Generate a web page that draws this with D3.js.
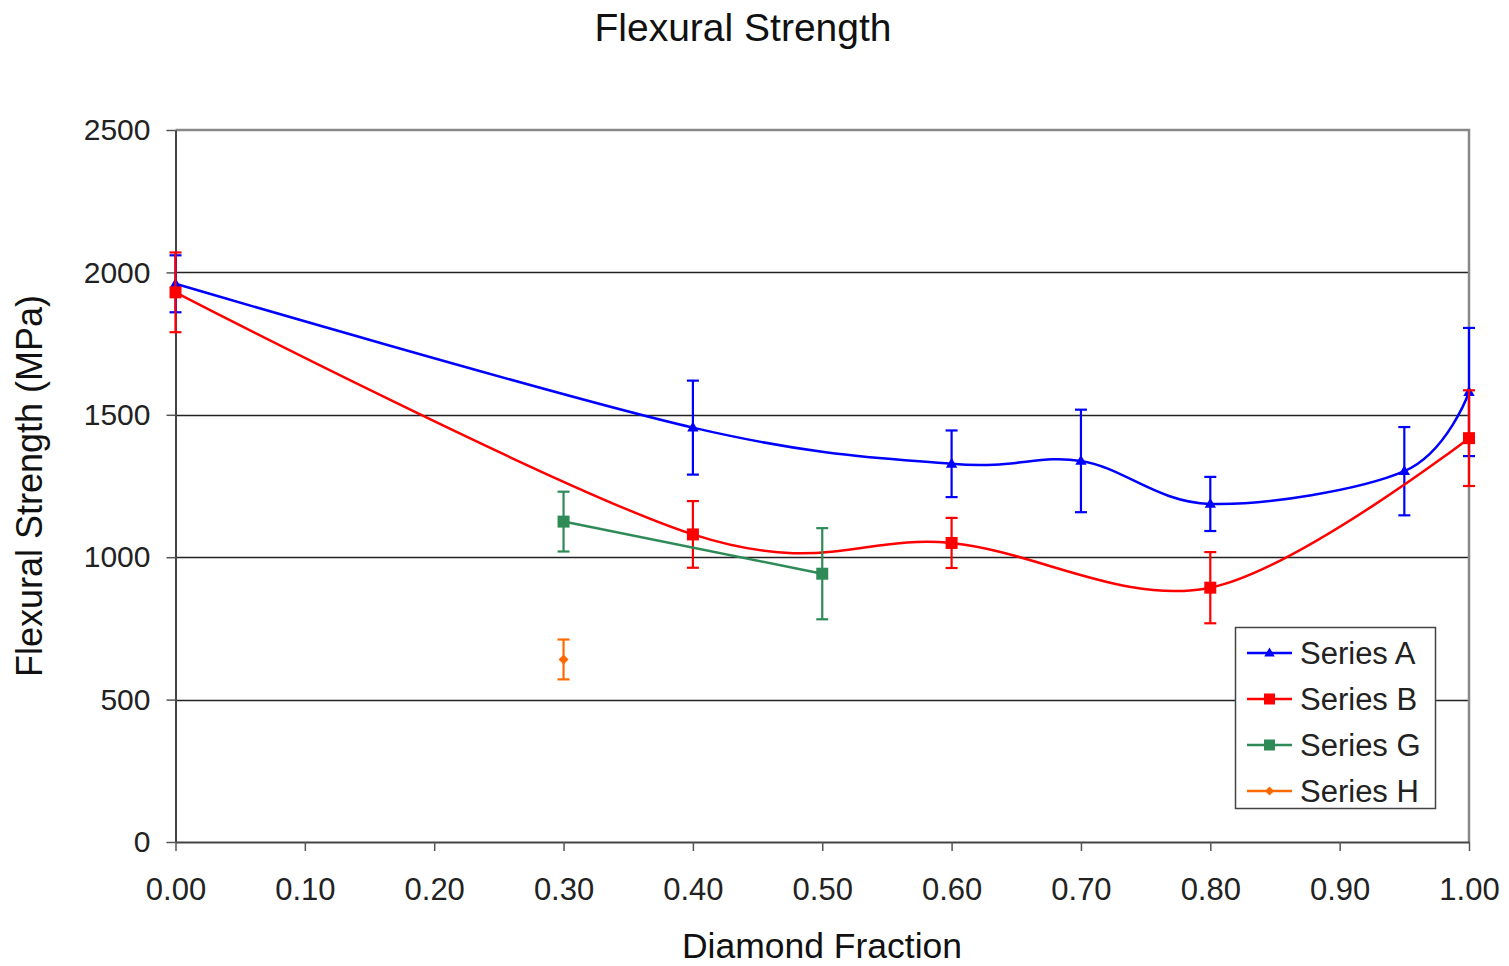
<!DOCTYPE html>
<html>
<head>
<meta charset="utf-8">
<script src="https://cdn.jsdelivr.net/npm/d3@7"></script>
<style>
  html, body { margin: 0; padding: 0; background: #fff; }
  svg { display: block; font-family: "Liberation Sans", Arial, sans-serif; }
</style>
</head>
<body>
<svg id="chart" width="1509" height="966"></svg>
<script>
// Flexural strength (MPa) versus diamond fraction, with error bars
const seriesNames = ["Series A", "Series B", "Series G", "Series H"];
const seriesColors = ["#0000ff", "#ff0000", "#2e8b57", "#ff6a00"];
const seriesMarkers = ["triangle", "square", "square", "diamond"];

const xA = [0.00, 0.40, 0.60, 0.70, 0.80, 0.95, 1.00];
const yA = [1960, 1455, 1328, 1338, 1187, 1302, 1580];
const eA = [100, 165, 117, 180, 95, 155, 225];

const xB = [0.00, 0.40, 0.60, 0.80, 1.00];
const yB = [1930, 1080, 1050, 893, 1418];
const eB = [140, 117, 88, 125, 168];

const xG = [0.30, 0.50];
const yG = [1125, 942];
const eG = [105, 160];

const xH = [0.30];
const yH = [641];
const eH = [70];

const xTicks = [0, 0.1, 0.2, 0.3, 0.4, 0.5, 0.6, 0.7, 0.8, 0.9, 1.0];
const yTicks = [0, 500, 1000, 1500, 2000, 2500];

const series = [
  { x: xA, y: yA, e: eA, smooth: true },
  { x: xB, y: yB, e: eB, smooth: true },
  { x: xG, y: yG, e: eG, smooth: false },
  { x: xH, y: yH, e: eH, smooth: false }
].map((s, i) => ({
  name: seriesNames[i], color: seriesColors[i], marker: seriesMarkers[i],
  smooth: s.smooth,
  pts: s.x.map((xv, j) => ({ x: xv, y: s.y[j], e: s.e[j] }))
}));

const svg = d3.select("#chart");
const plotLeft = 175.5, plotRight = 1469, plotTop = 130, plotBottom = 842;

const x = d3.scaleLinear().domain([0, 1]).range([plotLeft, plotRight]);
const y = d3.scaleLinear().domain([0, 2500]).range([plotBottom, plotTop]);

// Horizontal gridlines
svg.append("g")
  .selectAll("line")
  .data(yTicks.filter(d => d > 0 && d < 2500))
  .join("line")
  .attr("x1", plotLeft).attr("x2", plotRight)
  .attr("y1", d => Math.round(y(d)) + 0.5).attr("y2", d => Math.round(y(d)) + 0.5)
  .attr("stroke", "#222").attr("stroke-width", 1.3);

// Plot frame: top and right edges
svg.append("path")
  .attr("d", `M${plotLeft},${plotTop}H${plotRight}V${plotBottom}`)
  .attr("fill", "none").attr("stroke", "#888").attr("stroke-width", 2.5);

// Axes
const yAxis = d3.axisLeft(y).tickValues(yTicks).tickFormat(d3.format("d"))
  .tickSize(9).tickSizeOuter(0).tickPadding(16);
const gy = svg.append("g").attr("transform", `translate(${plotLeft},0)`).call(yAxis);
gy.select(".domain").attr("stroke", "#444").attr("stroke-width", 2);
gy.selectAll(".tick line").attr("stroke", "#555").attr("stroke-width", 1.5);
gy.selectAll(".tick text").attr("font-size", 30).attr("fill", "#222")
  .attr("font-family", "Liberation Sans, Arial, sans-serif");

const xAxis = d3.axisBottom(x).tickValues(xTicks).tickFormat(d3.format(".2f"))
  .tickSize(9).tickSizeOuter(0).tickPadding(27);
const gx = svg.append("g").attr("transform", `translate(0,${plotBottom})`).call(xAxis);
gx.select(".domain").attr("stroke", "#444").attr("stroke-width", 2);
gx.selectAll(".tick line").attr("stroke", "#555").attr("stroke-width", 1.5);
gx.selectAll(".tick text").attr("font-size", 31).attr("fill", "#222")
  .attr("font-family", "Liberation Sans, Arial, sans-serif");

// Titles
svg.append("text").attr("x", 743).attr("y", 41).attr("text-anchor", "middle")
  .attr("font-size", 39).attr("fill", "#111").text("Flexural Strength");
svg.append("text").attr("x", 822).attr("y", 958).attr("text-anchor", "middle")
  .attr("font-size", 35.5).attr("fill", "#111").text("Diamond Fraction");
svg.append("text").attr("transform", "translate(42,486) rotate(-90)")
  .attr("text-anchor", "middle").attr("font-size", 36).attr("fill", "#111")
  .text("Flexural Strength (MPa)");

// Marker drawing
function markerPath(type, size) {
  const s = size;
  if (type === "triangle") return `M0,${-s}L${s * 0.95},${s * 0.65}L${-s * 0.95},${s * 0.65}Z`;
  if (type === "diamond") return `M0,${-s}L${s},0L0,${s}L${-s},0Z`;
  return `M${-s},${-s}H${s}V${s}H${-s}Z`;
}

const line = d3.line().x(d => x(d.x)).y(d => y(d.y));
const plot = svg.append("g");

series.forEach(s => {
  const g = plot.append("g");
  if (s.pts.length > 1) {
    g.append("path")
      .datum(s.pts)
      .attr("d", line.curve(s.smooth ? d3.curveCatmullRom.alpha(0) : d3.curveLinear))
      .attr("fill", "none").attr("stroke", s.color).attr("stroke-width", 2.5);
  }
  // Error bars
  const eb = g.selectAll(".eb").data(s.pts).join("g");
  eb.append("line")
    .attr("x1", d => x(d.x)).attr("x2", d => x(d.x))
    .attr("y1", d => y(d.y + d.e)).attr("y2", d => y(d.y - d.e))
    .attr("stroke", s.color).attr("stroke-width", 2.2);
  [1, -1].forEach(sign => {
    eb.append("line")
      .attr("x1", d => x(d.x) - 6).attr("x2", d => x(d.x) + 6)
      .attr("y1", d => y(d.y + sign * d.e)).attr("y2", d => y(d.y + sign * d.e))
      .attr("stroke", s.color).attr("stroke-width", 2.2);
  });
  // Markers
  g.selectAll(".mk").data(s.pts).join("path")
    .attr("transform", d => `translate(${x(d.x)},${y(d.y)})`)
    .attr("d", markerPath(s.marker, s.marker === "diamond" ? 5 : 6))
    .attr("fill", s.color);
});

// Legend
const lg = svg.append("g").attr("transform", "translate(1235,627)");
lg.append("rect").attr("x", 0.5).attr("y", 0.5).attr("width", 200).attr("height", 181)
  .attr("fill", "#fff").attr("stroke", "#444").attr("stroke-width", 1.5);
series.forEach((s, i) => {
  const cy = 26 + i * 46;
  lg.append("line").attr("x1", 12).attr("x2", 57).attr("y1", cy).attr("y2", cy)
    .attr("stroke", s.color).attr("stroke-width", 2.5);
  lg.append("path").attr("transform", `translate(34.5,${cy})`)
    .attr("d", markerPath(s.marker, s.marker === "diamond" ? 4.5 : 5.5)).attr("fill", s.color);
  lg.append("text").attr("x", 65).attr("y", cy + 11).attr("font-size", 31)
    .attr("fill", "#222").text(s.name);
});
</script>
</body>
</html>
